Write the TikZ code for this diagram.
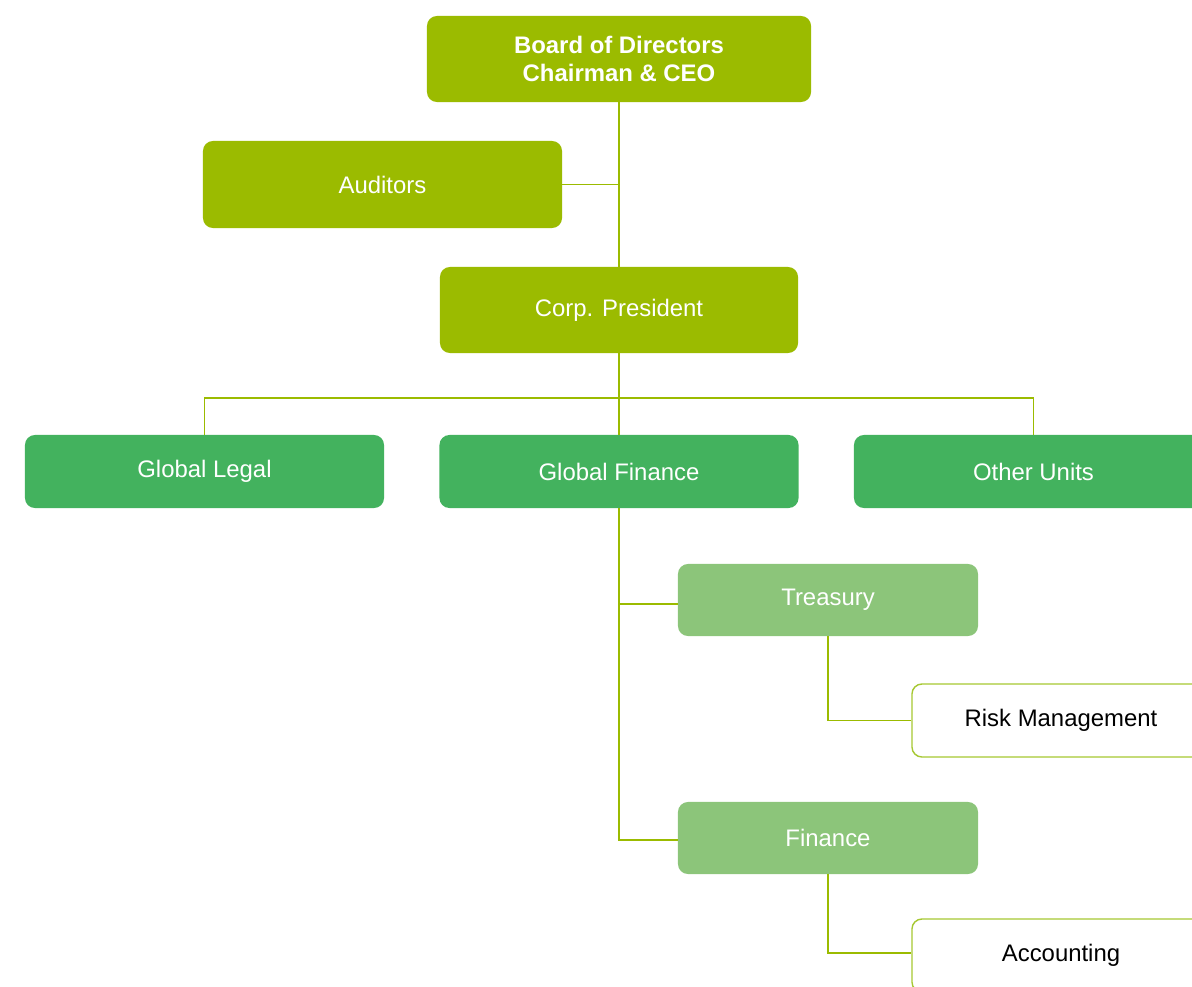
\documentclass[tikz,border=0pt]{standalone}
\usepackage{fontspec}
\setmainfont{Liberation Sans}
\usetikzlibrary{positioning,calc}
\definecolor{boardgreen}{RGB}{155,187,0}
\definecolor{unitgreen}{RGB}{67,178,94}
\definecolor{subgreen}{RGB}{140,197,122}
\definecolor{edgegreen}{RGB}{166,200,50}

\tikzset{
    box/.style={rectangle, rounded corners=0.25cm, inner sep=0pt, align=center,
        text=white, font=\fontsize{17}{19.5}\selectfont},
    topbox/.style={box, fill=boardgreen, minimum width=8.975cm, minimum height=2.15cm},
    unitbox/.style={box, fill=unitgreen, minimum width=8.975cm, minimum height=1.825cm},
    subbox/.style={box, fill=subgreen, minimum width=7.5cm, minimum height=1.8cm},
    leafbox/.style={box, fill=white, draw=edgegreen, line width=1pt, text=black,
        minimum width=7.45cm, minimum height=1.825cm},
    link/.style={draw=boardgreen, line width=0.8pt}
}

\begin{document}
\begin{tikzpicture}[x=0.025cm, y=-0.025cm]
    % Page frame
    \useasboundingbox (0,0) rectangle (1192,987);
    \clip (0,0) rectangle (1192,987);

    % Top levels
    \node[topbox, minimum width=9.6cm, font=\fontsize{17}{19.5}\selectfont\bfseries] (board) at (619,59) {Board of Directors\\Chairman \& CEO};
    \node[topbox, minimum height=2.175cm] (auditors) at (382.5,184.5) {Auditors};
    \node[topbox, minimum width=8.95cm] (president) at (619,310) {Corp. President};

    % Units
    \node[unitbox] (legal) at (204.5,471.5) {Global Legal};
    \node[unitbox] (globfin) at (619,471.5) {Global Finance};
    \node[unitbox] (other) at (1033.5,471.5) {Other Units};

    % Finance departments
    \node[subbox] (treasury) at (828,600) {Treasury};
    \node[subbox] (finance) at (828,838) {Finance};
    \node[leafbox] (risk) at (1061,720.5) {Risk Management};
    \node[leafbox] (accounting) at (1061,955.5) {Accounting};

    % Connectors
    \coordinate (bus) at (619,398);
    \draw[link] (board.south) -- (president.north);
    \draw[link] (auditors.east) -- (auditors.east -| board.south);
    \draw[link] (president.south) -- (bus);
    \draw[link] (legal.north) |- (bus) -| (other.north);
    \draw[link] (bus) -- (globfin.north);
    \draw[link] (globfin.south) |- ($(treasury.west)+(0,4)$);
    \draw[link] (globfin.south) |- ($(finance.west)+(0,2)$);
    \draw[link] (treasury.south) |- (risk.west);
    \draw[link] (finance.south) |- ($(accounting.west)+(0,-2.5)$);
\end{tikzpicture}
\end{document}
